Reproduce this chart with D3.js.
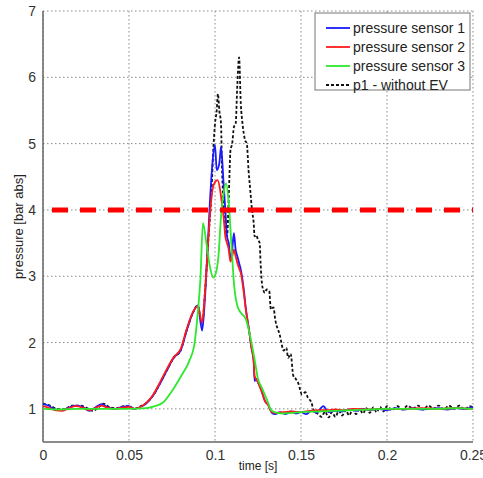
<!DOCTYPE html>
<html>
<head>
<meta charset="utf-8">
<script src="https://cdn.jsdelivr.net/npm/d3@7"></script>
<style>
  body { margin: 0; background: #fff; }
  svg { display: block; font-family: "Liberation Sans", Arial, sans-serif; }
</style>
</head>
<body>
<div id="chart"></div>
<script>
// Data: [time s, pressure bar abs]
const sensor1 = [[0,1.07],[0.003,1.05],[0.007,0.99],[0.011,0.98],[0.015,1.02],[0.019,1.05],[0.023,1.03],[0.027,0.97],[0.031,1.03],[0.034,1.07],[0.038,1.02],[0.042,1.0],[0.046,1.03],[0.050,1.04],[0.053,1.0],[0.056,1.02],[0.060,1.08],[0.064,1.2],[0.068,1.38],[0.072,1.58],[0.076,1.77],[0.080,1.88],[0.0835,2.18],[0.087,2.44],[0.090,2.56],[0.0925,2.18],[0.094,2.6],[0.0955,3.3],[0.097,4.1],[0.0985,4.7],[0.100,4.98],[0.101,4.6],[0.1025,4.7],[0.1035,4.95],[0.105,4.4],[0.106,4.0],[0.107,3.6],[0.108,3.5],[0.109,3.25],[0.110,3.4],[0.111,3.65],[0.112,3.4],[0.113,3.3],[0.114,3.2],[0.115,3.1],[0.1165,2.85],[0.118,2.5],[0.120,2.15],[0.121,1.95],[0.1225,1.73],[0.123,1.42],[0.124,1.45],[0.125,1.4],[0.127,1.28],[0.129,1.12],[0.131,1.06],[0.133,0.94],[0.135,0.92],[0.138,0.95],[0.141,0.92],[0.144,0.96],[0.147,0.93],[0.150,0.95],[0.153,0.92],[0.156,0.97],[0.159,0.94],[0.163,1.04],[0.166,0.95],[0.170,0.97],[0.174,0.96],[0.178,0.99],[0.182,0.97],[0.186,1.0],[0.190,0.98],[0.195,1.0],[0.200,0.98],[0.205,1.01],[0.21,0.99],[0.215,1.01],[0.22,0.99],[0.225,1.0],[0.23,1.01],[0.235,0.99],[0.24,1.01],[0.245,1.0],[0.25,1.03]];

const sensor2 = [[0,1.04],[0.003,1.02],[0.007,0.98],[0.011,0.97],[0.015,1.01],[0.019,1.04],[0.023,1.02],[0.027,0.98],[0.031,1.02],[0.034,1.05],[0.038,1.01],[0.042,1.0],[0.046,1.02],[0.050,1.03],[0.053,1.0],[0.056,1.02],[0.060,1.09],[0.064,1.21],[0.068,1.4],[0.072,1.6],[0.076,1.78],[0.080,1.9],[0.0835,2.2],[0.087,2.45],[0.090,2.55],[0.0925,2.3],[0.094,2.7],[0.0955,3.3],[0.097,3.9],[0.0985,4.3],[0.100,4.42],[0.1015,4.45],[0.103,4.3],[0.104,4.1],[0.105,3.9],[0.106,3.6],[0.107,3.5],[0.108,3.4],[0.109,3.22],[0.110,3.3],[0.111,3.4],[0.112,3.3],[0.113,3.2],[0.114,3.12],[0.115,3.05],[0.1165,2.8],[0.118,2.48],[0.120,2.15],[0.121,1.95],[0.1225,1.7],[0.123,1.5],[0.125,1.4],[0.127,1.27],[0.129,1.12],[0.131,1.05],[0.133,0.95],[0.135,0.94],[0.14,0.95],[0.145,0.96],[0.15,0.95],[0.155,0.97],[0.16,0.98],[0.165,0.98],[0.17,0.99],[0.175,0.98],[0.18,1.0],[0.19,0.99],[0.2,1.0],[0.21,1.0],[0.22,1.01],[0.23,1.0],[0.24,1.01],[0.25,1.0]];

const sensor3 = [[0,1.0],[0.01,0.99],[0.02,1.0],[0.03,1.0],[0.04,1.0],[0.05,1.0],[0.06,1.01],[0.065,1.04],[0.07,1.1],[0.075,1.27],[0.08,1.48],[0.085,1.72],[0.088,1.97],[0.090,2.45],[0.0915,2.95],[0.093,3.8],[0.095,3.5],[0.097,3.15],[0.099,2.98],[0.1005,3.05],[0.102,3.3],[0.1035,3.9],[0.105,4.25],[0.1065,4.4],[0.108,4.1],[0.1095,3.5],[0.111,2.9],[0.113,2.55],[0.115,2.45],[0.118,2.35],[0.120,2.15],[0.123,1.75],[0.125,1.45],[0.127,1.33],[0.130,1.15],[0.133,0.97],[0.136,0.94],[0.14,0.93],[0.145,0.94],[0.15,0.95],[0.16,0.96],[0.17,0.97],[0.18,0.98],[0.19,0.99],[0.2,1.0],[0.21,1.0],[0.22,1.0],[0.23,1.0],[0.24,1.01],[0.25,1.0]];

const withoutEV = [[0,1.08],[0.004,1.05],[0.008,1.0],[0.012,0.99],[0.017,1.05],[0.021,1.05],[0.025,1.02],[0.029,0.97],[0.033,1.04],[0.035,1.08],[0.039,1.02],[0.043,1.01],[0.047,1.04],[0.050,1.04],[0.053,1.0],[0.056,1.03],[0.060,1.09],[0.064,1.2],[0.068,1.38],[0.072,1.58],[0.076,1.77],[0.080,1.88],[0.0835,2.18],[0.087,2.44],[0.090,2.56],[0.0925,2.25],[0.094,2.7],[0.096,3.5],[0.098,4.3],[0.099,4.9],[0.100,5.3],[0.101,5.5],[0.1017,5.75],[0.1025,5.5],[0.1035,5.3],[0.104,4.7],[0.105,4.1],[0.106,3.7],[0.107,3.6],[0.108,4.2],[0.109,4.9],[0.110,5.0],[0.111,5.25],[0.112,5.3],[0.113,5.9],[0.114,6.3],[0.115,5.6],[0.116,5.3],[0.1175,5.05],[0.1185,5.0],[0.1195,4.6],[0.1205,4.3],[0.1215,4.0],[0.1225,3.8],[0.123,3.6],[0.124,3.62],[0.125,3.55],[0.126,3.5],[0.1265,3.2],[0.1275,2.85],[0.129,2.75],[0.130,2.8],[0.1315,2.78],[0.1325,2.5],[0.134,2.53],[0.135,2.35],[0.1375,2.13],[0.140,1.88],[0.1415,1.92],[0.1425,1.77],[0.144,1.83],[0.1455,1.5],[0.147,1.45],[0.1485,1.38],[0.1505,1.22],[0.1525,1.25],[0.154,1.17],[0.156,1.1],[0.1575,0.97],[0.160,0.92],[0.162,0.88],[0.164,0.96],[0.166,0.87],[0.168,0.95],[0.170,0.88],[0.172,0.97],[0.174,0.9],[0.176,0.98],[0.178,0.9],[0.180,0.99],[0.182,0.92],[0.184,1.0],[0.186,0.93],[0.188,1.01],[0.190,0.94],[0.192,1.02],[0.194,0.95],[0.196,1.03],[0.198,0.96],[0.200,1.04],[0.203,0.98],[0.206,1.04],[0.209,0.99],[0.212,1.05],[0.215,1.0],[0.218,1.05],[0.221,0.99],[0.224,1.05],[0.227,1.0],[0.230,1.05],[0.233,0.99],[0.236,1.05],[0.239,1.0],[0.242,1.05],[0.245,0.99],[0.248,1.04],[0.25,1.02]];

const limitValue = 4;
const xTicks = [0, 0.05, 0.1, 0.15, 0.2, 0.25];
const yTicks = [1, 2, 3, 4, 5, 6, 7];
const seriesNames = ["pressure sensor 1", "pressure sensor 2", "pressure sensor 3", "p1 - without EV"];

const series = [
  { name: seriesNames[0], data: sensor1, color: "#1a1aff", dash: null },
  { name: seriesNames[1], data: sensor2, color: "#ff1a1a", dash: null },
  { name: seriesNames[2], data: sensor3, color: "#2ee82e", dash: null },
  { name: seriesNames[3], data: withoutEV, color: "#111", dash: "3,2" },
];

const width = 483, height = 478;
const plot = { left: 43, right: 473, top: 11, bottom: 442 };

const svg = d3.select("#chart").append("svg")
  .attr("width", width)
  .attr("height", height);

const x = d3.scaleLinear().domain([0, 0.25]).range([plot.left, plot.right]);
const y = d3.scaleLinear().domain([0.5, 7]).range([plot.bottom, plot.top]);

// grid
const grid = svg.append("g").attr("stroke", "#8a8a8a").attr("stroke-width", 1).attr("stroke-dasharray", "1.5,2.5");
grid.selectAll(".gx").data(xTicks).enter().append("line")
  .attr("x1", d => x(d)).attr("x2", d => x(d))
  .attr("y1", plot.top).attr("y2", plot.bottom);
grid.selectAll(".gy").data(yTicks).enter().append("line")
  .attr("x1", plot.left).attr("x2", plot.right)
  .attr("y1", d => y(d)).attr("y2", d => y(d));

// axes
const yAxis = svg.append("g")
  .attr("transform", `translate(${plot.left},0)`)
  .call(d3.axisLeft(y).tickValues(yTicks).tickSize(0).tickPadding(7).tickFormat(d3.format("d")));
const xAxis = svg.append("g")
  .attr("transform", `translate(0,${plot.bottom})`)
  .call(d3.axisBottom(x).tickValues(xTicks).tickSize(0).tickPadding(8).tickFormat(d => d === 0 ? "0" : String(d)));
[xAxis, yAxis].forEach(a => {
  a.select(".domain").attr("stroke", "#666").attr("stroke-width", 1.5);
  a.selectAll("text").attr("fill", "#333").attr("font-size", 14);
});
xAxis.select(".domain").attr("d", `M${plot.left},0H${plot.right}`);
yAxis.select(".domain").attr("d", `M0,${plot.top}V${plot.bottom}`);

// clip
svg.append("clipPath").attr("id", "clip").append("rect")
  .attr("x", plot.left).attr("y", plot.top)
  .attr("width", plot.right - plot.left).attr("height", plot.bottom - plot.top);

const lineGen = d3.line().x(d => x(d[0])).y(d => y(d[1])).curve(d3.curveMonotoneX);

const lines = svg.append("g").attr("clip-path", "url(#clip)");
// black dashed drawn first, sensors over it
[series[3], series[0], series[1], series[2]].forEach(s => {
  lines.append("path")
    .datum(s.data)
    .attr("d", lineGen)
    .attr("fill", "none")
    .attr("stroke", s.color)
    .attr("stroke-width", 1.8)
    .attr("stroke-dasharray", s.dash);
});

// limit line
lines.append("line")
  .attr("x1", x(0)).attr("x2", x(0.25))
  .attr("y1", y(limitValue)).attr("y2", y(limitValue))
  .attr("stroke", "#ff0000")
  .attr("stroke-width", 5)
  .attr("stroke-dasharray", "16,12")
  .attr("stroke-dashoffset", 19);

// axis labels
svg.append("text")
  .attr("x", (plot.left + plot.right) / 2)
  .attr("y", 470)
  .attr("text-anchor", "middle")
  .attr("font-size", 12)
  .attr("fill", "#222")
  .text("time [s]");
svg.append("text")
  .attr("transform", `translate(23,${(plot.top + plot.bottom) / 2}) rotate(-90)`)
  .attr("text-anchor", "middle")
  .attr("font-size", 13)
  .attr("fill", "#222")
  .text("pressure [bar abs]");

// legend
const legend = svg.append("g").attr("transform", "translate(315,13)");
legend.append("rect")
  .attr("width", 155).attr("height", 77)
  .attr("fill", "#fff").attr("stroke", "#777").attr("stroke-width", 1);
series.forEach((s, i) => {
  const ly = 15 + i * 19;
  legend.append("line")
    .attr("x1", 11).attr("x2", 35)
    .attr("y1", ly).attr("y2", ly)
    .attr("stroke", s.color)
    .attr("stroke-width", 1.8)
    .attr("stroke-dasharray", s.dash);
  legend.append("text")
    .attr("x", 38).attr("y", ly)
    .attr("dy", "0.35em")
    .attr("font-size", 14)
    .attr("fill", "#222")
    .text(s.name);
});
</script>
</body>
</html>
